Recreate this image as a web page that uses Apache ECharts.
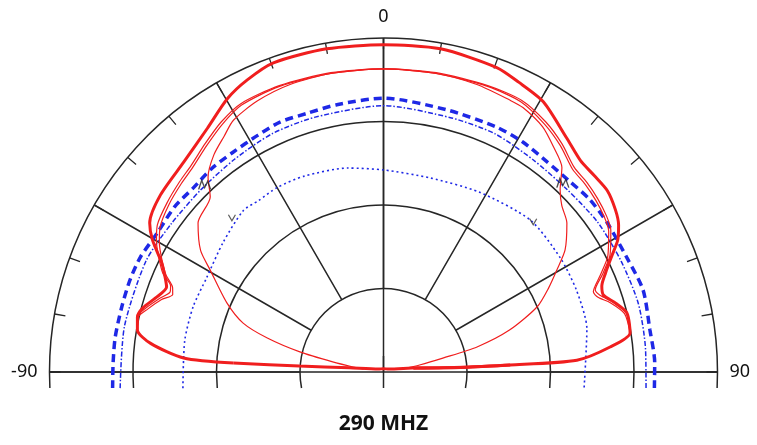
<!DOCTYPE html>
<html><head><meta charset="utf-8">
<script src="https://cdn.jsdelivr.net/npm/echarts@6/dist/echarts.min.js"></script>
<style>html,body{margin:0;padding:0;background:#fff}#c{width:757px;height:445px}</style>
</head><body><div id="c"></div>
<script>
// Title and angle tick labels
const chartTitle = '290 MHZ';
const angleLabels = ['-90', '0', '90'];
// Radius scale (dB): rings every 10 dB
const ringValues = [-30, -20, -10, 0];
const radiusMin = -40, radiusMax = 0;

// Thick red pattern: angles (deg) and levels (dB)
const redThickAngles = [-86.6, -86, -83, -80.3, -77.4, -75, -72, -68.6, -66, -63.8, -60.2, -57.5, -51.6, -43.6, -35.9, -29.7, -25, -19.6, -10, 0, 10, 20.4, 25, 30.6, 38, 43, 47, 51, 55, 58, 60.6, 63, 66, 68.5, 70.7, 73.5, 76.4, 81, 83.7, 86.5, 86.8, 86, 83];
const redThickValues = [-22.0, -16.0, -11.9, -10.1, -9.8, -10.2, -11.3, -12.1, -11.3, -10.4, -8.1, -6.8, -5.9, -5.3, -4.0, -2.3, -1.4, -0.7, -0.7, -0.8, -0.7, -1.1, -1.7, -2.4, -4.4, -5.4, -5.5, -5.5, -6.1, -6.8, -7.8, -9.3, -10.9, -11.9, -12.1, -11.0, -10.0, -10.1, -12.7, -16.8, -24.8, -32.8, -36.4];
// Near-centre part of thick red along the baseline
const redBaseAngles = [-86.6, -86, -83, -60, 0, 60, 83, 86, 86.8];
const redBaseValues = [-22.0, -29.9, -35.9, -39.3, -39.6, -39.3, -35.9, -32.8, -24.8];

// Thin red pair (notched)
const redPairAAngles = [-86.6, -86, -83, -80.3, -77.4, -75, -72, -69.5, -68, -66, -63, -60, -57, -52, -47, -43, -38, -33, -28, -20, -10, 0, 10, 20, 27, 33, 38, 43, 47, 51, 55, 58, 61, 63, 66, 68.8, 70.5, 73, 76.4, 81, 83.7, 86.5, 86.8];
const redPairAValues = [-22.0, -16.0, -11.9, -10.1, -9.8, -10.5, -11.7, -12.7, -12.5, -11.1, -9.8, -8.6, -7.7, -7.1, -6.6, -6.2, -5.3, -4.3, -3.6, -3.5, -3.6, -3.7, -3.6, -3.5, -3.5, -4.3, -5.3, -6.5, -6.7, -7.0, -7.4, -7.9, -8.9, -9.6, -11.3, -12.8, -12.5, -11.3, -10.0, -10.1, -12.7, -16.8, -24.8];
const redPairBAngles = [-83, -80.3, -77.4, -75, -72, -69.8, -68.2, -66, -63, -60, -57, -52, -47, -43, -38, -33, -28, -20, -10, 0, 10, 20, 27, 33, 38, 43, 47, 51, 55, 58, 61, 63, 66, 69.1, 70.8, 73, 76.4, 81];
const redPairBValues = [-11.9, -10.1, -9.9, -10.8, -12.0, -13.1, -12.8, -11.5, -10.2, -9.0, -8.1, -7.4, -6.9, -6.5, -5.6, -4.6, -3.8, -3.6, -3.7, -3.7, -3.7, -3.6, -3.7, -4.6, -5.6, -6.8, -7.0, -7.3, -7.7, -8.2, -9.2, -9.9, -11.6, -13.1, -12.8, -11.6, -10.3, -10.1];

// Thin red inner lobe
const redInnerAngles = [-82, -80.7, -78.8, -76.5, -73.7, -70.8, -66.2, -59.5, -56.4, -51.2, -44.7, -42, -38, -34, -30.8, -25, -18, -10, 0, 10, 18, 25, 27.8, 33, 37, 41.1, 44.1, 47, 50.9, 56.1, 59.5, 63, 67, 71.6, 75, 76.8, 79, 81];
const redInnerValues = [-37.6, -36.3, -33.8, -29.7, -25.5, -22.2, -19.5, -15.9, -13.7, -11.5, -10.5, -8.6, -7.0, -5.9, -4.9, -4.2, -3.8, -3.7, -3.7, -3.7, -3.8, -4.1, -4.2, -5.0, -6.2, -7.5, -9.6, -10.8, -11.7, -13.8, -15.9, -17.8, -20.0, -24.1, -28.4, -32.7, -35.6, -37.6];

// Thick blue dashed pattern
const blueThickAngles = [-93.4, -88, -82.6, -76, -70, -64.7, -58.5, -51.6, -46, -40, -34.4, -27.9, -22.5, -16.5, -9.9, 0, 13.6, 24.9, 31.2, 37.9, 44, 50, 56.3, 64.7, 72.5, 81, 88, 93.4];
const blueThickValues = [-7.5, -7.6, -7.6, -7.7, -7.7, -7.8, -8.2, -8.1, -8.3, -8.1, -8.1, -7.9, -7.6, -7.7, -7.5, -7.2, -7.7, -7.7, -7.8, -8.1, -8.1, -7.8, -7.8, -7.8, -7.4, -7.7, -7.5, -7.5];
// Thin blue dash-dot pattern
const blueDashDotAngles = [-93.5, -80, -65, -55, -45, -35, -25, -15, 0, 15, 25, 35, 45, 55, 65, 75, 85, 93.5];
const blueDashDotValues = [-8.4, -8.5, -8.6, -9.0, -9.1, -8.9, -8.5, -8.4, -8.1, -8.5, -8.5, -8.9, -9.0, -8.7, -8.6, -8.4, -8.5, -8.5];
// Inner blue dotted pattern
const blueDotAngles = [-94.6, -81, -71, -62, -51, -41, -36, -30, -22, -10, 0, 13.5, 28, 44, 57, 67, 78, 94.6];
const blueDotValues = [-15.9, -15.9, -15.9, -16.0, -15.3, -14.4, -14.6, -14.5, -14.7, -15.2, -15.8, -16.1, -15.6, -14.7, -14.8, -14.9, -15.1, -15.9];

// Black beamwidth markers
const markerMAngles = [-43.7, 43.5];
const markerMValues = [-9.0, -8.8];
const markerVAngles = [-44.5, 44.9];
const markerVValues = [-14.1, -14.6];

function pairs(vals, angs) { return vals.map((v, i) => [v, angs[i]]); }

const chart = echarts.init(document.getElementById('c'), null, { renderer: 'canvas' });
const CX = 383.5, CY = 372, R = 334, BELOW = 16;
const grid = '#262626';
const RED = '#f01e1e', BLUE = '#1e28e6';
const hidden = { axisLine: { show: false }, axisTick: { show: false }, axisLabel: { show: false }, splitLine: { show: false } };

// polar 0: data; polar 1: radial spokes from inner ring + ticks + labels;
// polar 2: full-length spokes at -90/0/90; polar 3: short stub below centre; polars 4..: rings
const polars = [
  { center: [CX, CY], radius: R },
  { center: [CX, CY], radius: [R * (ringValues[0] - radiusMin) / (radiusMax - radiusMin), R] },
  { center: [CX, CY], radius: R },
  { center: [CX, CY], radius: BELOW }
];
const angleAxes = [
  Object.assign({ polarIndex: 0, type: 'value', min: -95, max: 95, startAngle: 185, endAngle: -5, clockwise: true }, hidden),
  {
    polarIndex: 1, type: 'value', min: -90, max: 90, interval: 30, startAngle: 180, endAngle: 0, clockwise: true,
    axisLine: { show: false },
    axisTick: { show: true, inside: true, length: 11, lineStyle: { color: grid, width: 1.3 } },
    minorTick: { show: true, splitNumber: 3, length: 11, lineStyle: { color: grid, width: 1.3 } },
    axisLabel: {
      show: true, margin: 12, fontFamily: 'Noto Sans', fontSize: 18, color: '#111',
      formatter: v => angleLabels.indexOf(String(v)) >= 0 ? String(v) : ''
    },
    splitLine: { show: true, lineStyle: { color: grid, width: 1.5 } }
  },
  {
    polarIndex: 2, type: 'value', min: -90, max: 90, interval: 90, startAngle: 180, endAngle: 0, clockwise: true,
    axisLine: { show: false }, axisTick: { show: false }, axisLabel: { show: false },
    splitLine: { show: true, lineStyle: { color: grid, width: 1.5 } }
  },
  {
    polarIndex: 3, type: 'value', min: -180, max: 180, interval: 180, startAngle: 270, clockwise: true,
    axisLine: { show: false }, axisTick: { show: false }, axisLabel: { show: false },
    splitLine: { show: true, lineStyle: { color: grid, width: 1.5 } }
  }
];
const radiusAxes = [
  Object.assign({ polarIndex: 0, type: 'value', min: radiusMin, max: radiusMax }, hidden),
  Object.assign({ polarIndex: 1, type: 'value', min: ringValues[0], max: radiusMax }, hidden),
  Object.assign({ polarIndex: 2, type: 'value', min: radiusMin, max: radiusMax }, hidden),
  Object.assign({ polarIndex: 3, type: 'value', min: 0, max: 1 }, hidden)
];
// Rings: each arc continues below the baseline down to the same horizontal level
ringValues.forEach((rv, k) => {
  const rr = R * (rv - radiusMin) / (radiusMax - radiusMin);
  const ext = Math.asin(BELOW / rr) * 180 / Math.PI;
  const idx = polars.length;
  polars.push({ center: [CX, CY], radius: rr });
  angleAxes.push({
    polarIndex: idx, type: 'value', min: -90 - ext, max: 90 + ext, startAngle: 180 + ext, endAngle: -ext, clockwise: true,
    axisLine: { show: true, lineStyle: { color: grid, width: 1.5 } },
    axisTick: { show: false }, axisLabel: { show: false }, splitLine: { show: false }
  });
  radiusAxes.push(Object.assign({ polarIndex: idx, type: 'value', min: 0, max: 1 }, hidden));
});

function lineSeries(name, vals, angs, color, width, type, z) {
  return {
    name, type: 'line', coordinateSystem: 'polar', polarIndex: 0,
    data: pairs(vals, angs), showSymbol: false, symbol: 'none', smooth: 0.25,
    lineStyle: { color, width, type }, z: z || 3, animation: false
  };
}

chart.setOption({
  animation: false,
  title: {
    text: chartTitle, left: CX, textAlign: 'center', top: 414, padding: 0,
    textStyle: { fontFamily: 'Noto Sans', fontWeight: 'bold', fontSize: 21, color: '#111' }
  },
  polar: polars,
  angleAxis: angleAxes,
  radiusAxis: radiusAxes,
  series: [
    lineSeries('blueDot', blueDotValues, blueDotAngles, BLUE, 1.6, [2, 3], 3),
    lineSeries('blueDashDot', blueDashDotValues, blueDashDotAngles, BLUE, 1.5, [5, 2, 1.5, 2], 3),
    lineSeries('blueThick', blueThickValues, blueThickAngles, BLUE, 3.5, [8, 5], 3),
    lineSeries('redInner', redInnerValues, redInnerAngles, RED, 1.2, 'solid', 4),
    lineSeries('redPairB', redPairBValues, redPairBAngles, RED, 1.2, 'solid', 4),
    lineSeries('redPairA', redPairAValues, redPairAAngles, RED, 1.2, 'solid', 4),
    lineSeries('redBase', redBaseValues, redBaseAngles, RED, 3, 'solid', 5),
    lineSeries('redThick', redThickValues, redThickAngles, RED, 3, 'solid', 5),
    {
      type: 'scatter', coordinateSystem: 'polar', polarIndex: 0, data: pairs(markerMValues, markerMAngles),
      symbol: 'path://M0,10 L3,0 L6,8 L9,1 L12,10', symbolSize: [12, 9],
      itemStyle: { color: 'none', borderColor: '#222', borderWidth: 1.2 }, z: 6, silent: true
    },
    {
      type: 'scatter', coordinateSystem: 'polar', polarIndex: 0, data: pairs(markerVValues, markerVAngles),
      symbol: 'path://M0,0 L4,7 L8,0', symbolSize: [7, 6],
      itemStyle: { color: 'none', borderColor: '#333', borderWidth: 1.1 }, z: 6, silent: true
    }
  ]
});
</script></body></html>
